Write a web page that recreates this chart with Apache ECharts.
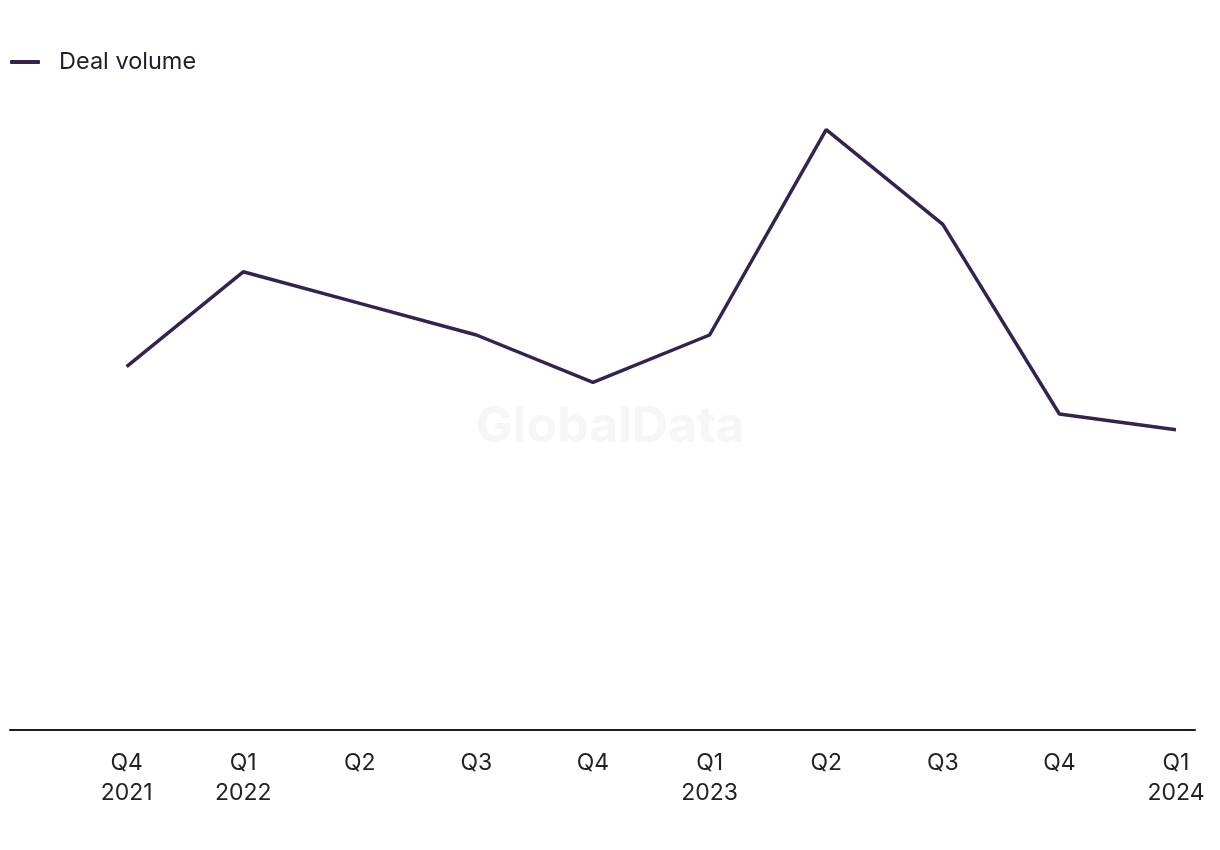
<!DOCTYPE html>
<html>
<head>
<meta charset="utf-8">
<script src="https://cdn.jsdelivr.net/npm/echarts@6/dist/echarts.min.js"></script>
<style>html,body{margin:0;padding:0;background:#fff}#c{width:1220px;height:850px}</style>
</head>
<body>
<div id="c"></div>
<script>
const categories = ['Q4\n2021','Q1\n2022','Q2','Q3','Q4','Q1\n2023','Q2','Q3','Q4','Q1\n2024'];
const dealVolume = [46, 58, 54, 50, 44, 50, 76, 64, 40, 38];
const seriesName = 'Deal volume';

const chart = echarts.init(document.getElementById('c'));
const FONT = 'Inter, Liberation Sans, Arial, sans-serif';
chart.setOption({
  animation: false,
  backgroundColor: '#fff',
  graphic: [{
    type: 'text', x: 610, y: 427, z: -1,
    style: { text: 'GlobalData', align: 'center', verticalAlign: 'middle',
      font: 'bold 50px ' + FONT, fill: '#f6f6f6' }
  }],
  legend: {
    left: 10, top: 50, padding: 0, itemWidth: 30, itemHeight: 4, icon: 'roundRect',
    textStyle: { fontFamily: FONT, fontSize: 23.5, color: '#1f1d2e', padding: [0,0,0,14] },
    data: [seriesName]
  },
  grid: { left: 10, right: 25, top: 98, bottom: 120, containLabel: false },
  xAxis: {
    type: 'value', min: -1, max: 9.163, interval: 1,
    axisLine: { show: true, onZero: false, lineStyle: { color: '#1a1a2a', width: 2 } },
    axisTick: { show: false },
    splitLine: { show: false },
    axisLabel: {
      margin: 18, fontFamily: FONT, fontSize: 23, color: '#222', lineHeight: 30,
      showMinLabel: false, showMaxLabel: false,
      formatter: function (v) {
        const i = Math.round(v);
        if (Math.abs(v - i) > 1e-6 || i < 0 || i >= categories.length) return '';
        return categories[i];
      }
    }
  },
  yAxis: {
    type: 'value', min: 0, max: 80,
    show: false, splitLine: { show: false }
  },
  series: [{
    name: seriesName, type: 'line', symbol: 'none',
    lineStyle: { color: '#34224f', width: 3.5 },
    itemStyle: { color: '#34224f' },
    data: dealVolume.map((v, i) => [i, v])
  }]
});
</script>
</body>
</html>
